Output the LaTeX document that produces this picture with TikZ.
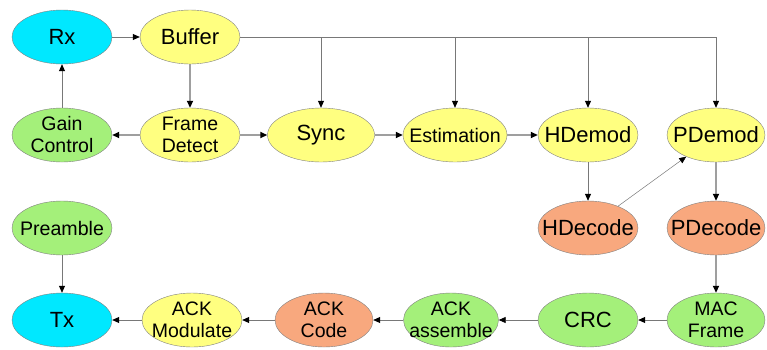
\documentclass[tikz,border=0pt]{standalone}
\usepackage{fontspec}
\setmainfont{Liberation Sans}
\usetikzlibrary{shapes.geometric,arrows.meta}

\definecolor{blkcyan}{RGB}{0,232,255}
\definecolor{blkyellow}{RGB}{255,255,128}
\definecolor{blkgreen}{RGB}{164,240,122}
\definecolor{blkorange}{RGB}{248,168,126}
\definecolor{wiregray}{RGB}{120,120,120}

\begin{document}
\begin{tikzpicture}[x=1pt,y=-1pt,
  blk/.style={ellipse,draw=gray,fill=blkyellow,minimum width=100pt,minimum height=54pt,
    inner xsep=-60pt,inner ysep=-40pt,align=center,font=\fontsize{22}{24}\selectfont},
  two/.style={font=\fontsize{19.5}{22}\selectfont},
  wire/.style={draw=wiregray,line width=0.8pt,-{Triangle[length=7pt,width=6pt,color=black]}},
  fat/.style={wire,draw=gray!75,line width=1.8pt}]
\useasboundingbox (0,0) rectangle (767,349);

% receive chain
\node[blk,fill=blkcyan] (rx) at (62,37) {Rx};
\node[blk] (buf) at (190,37) {Buffer};
\node[blk,two,fill=blkgreen] (gain) at (62,135) {Gain\\Control};
\node[blk,two] (frame) at (190,135) {Frame\\Detect};
\node[blk,minimum width=107pt] (sync) at (321,135) {Sync};
\node[blk,minimum width=104pt,font=\fontsize{19.6}{22}\selectfont] (est) at (455,135) {Estimation};
\node[blk] (hdem) at (588,135) {HDemod};
\node[blk,minimum width=98pt] (pdem) at (716,135) {PDemod};
\node[blk,fill=blkorange] (hdec) at (588,228) {HDecode};
\node[blk,fill=blkorange,minimum width=98pt] (pdec) at (716,228) {PDecode};

% transmit chain
\node[blk,fill=blkgreen,font=\fontsize{19.6}{22}\selectfont] (pre) at (62,228) {Preamble};
\node[blk,fill=blkcyan] (tx) at (62,320) {Tx};
\node[blk,two] (ackmod) at (192,320) {ACK\\Modulate};
\node[blk,two,fill=blkorange,minimum width=98pt] (ackcode) at (324,320) {ACK\\Code};
\node[blk,two,fill=blkgreen,minimum width=95pt] (ackasm) at (451,320) {ACK\\assemble};
\node[blk,fill=blkgreen] (crc) at (588,320) {CRC};
\node[blk,two,fill=blkgreen,minimum width=98pt] (mac) at (716,320) {MAC\\Frame};

% buffer bus
\coordinate (bsync) at (sync |- buf);
\coordinate (best) at (est |- buf);
\coordinate (bhdem) at (hdem |- buf);
\coordinate (bpdem) at (pdem |- buf);
\draw[wire] (buf.east) -- (bpdem) -- (pdem.north);
\draw[wire] (bsync) -- (sync.north);
\draw[wire] (best) -- (est.north);
\draw[wire] (bhdem) -- (hdem.north);

\draw[wire] (rx) -- (buf);
\draw[wire] (gain) -- (rx);
\draw[fat] (buf) -- (frame);
\draw[fat] (frame) -- (gain);
\draw[fat] (frame) -- (sync);
\draw[fat] (sync) -- (est);
\draw[fat] (est) -- (hdem);
\draw[wire] (hdem) -- (hdec);
\draw[wire,line width=0.5pt] (hdec) -- (pdem);
\draw[fat] (pdem) -- (pdec);
\draw[fat] (pdec) -- (mac);

\draw[wire] (mac) -- (crc);
\draw[wire] (crc) -- (ackasm);
\draw[wire] (ackasm) -- (ackcode);
\draw[wire] (ackcode) -- (ackmod);
\draw[wire] (ackmod) -- (tx);
\draw[wire] (pre) -- (tx);
\end{tikzpicture}
\end{document}
